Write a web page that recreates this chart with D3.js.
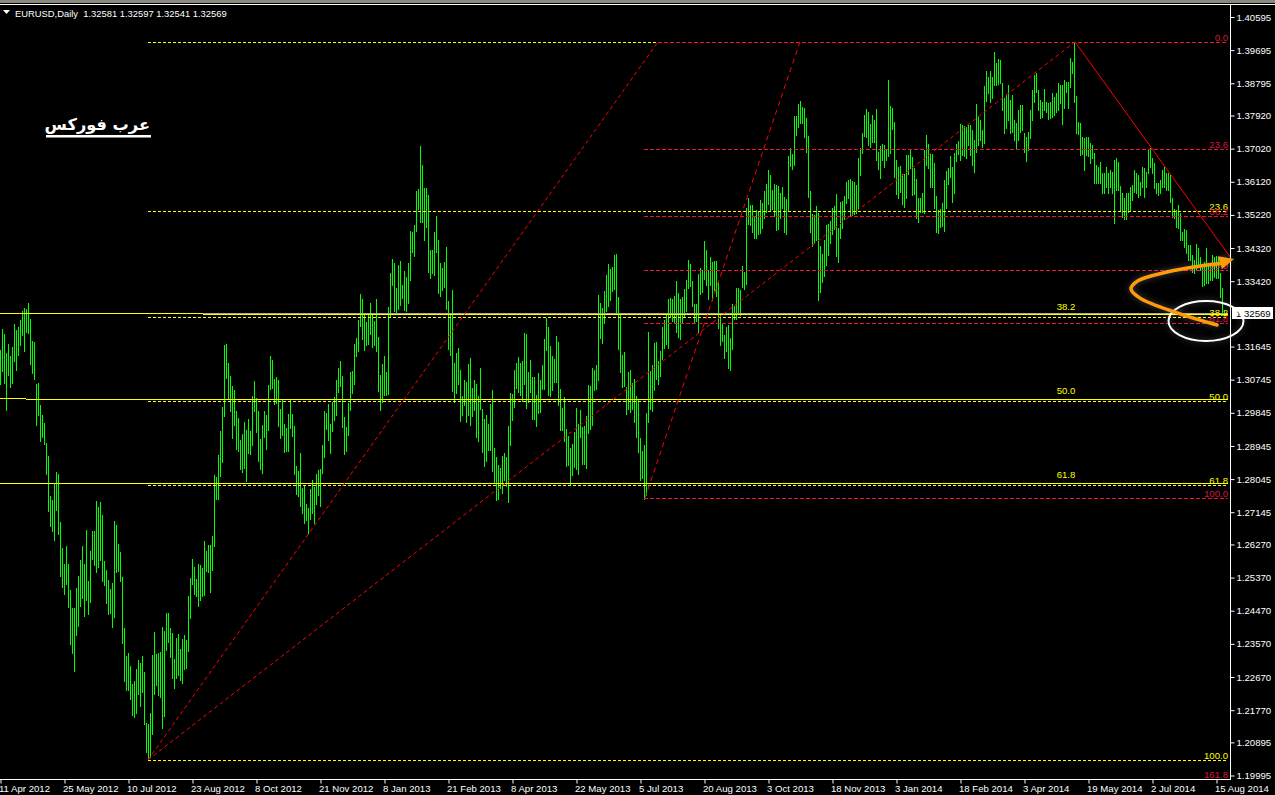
<!DOCTYPE html>
<html><head><meta charset="utf-8">
<script src="https://cdn.jsdelivr.net/npm/d3@7/dist/d3.min.js"></script>
<style>
html,body{margin:0;padding:0;background:#000;overflow:hidden}
svg{display:block}
text{font-family:"Liberation Sans",sans-serif;font-size:9.6px}
</style></head><body><svg id="c" width="1275" height="795"></svg>
<script>
// Values in 1/10000 above 1.0000 (e.g. 3155 = 1.3155)
const highs=[
3155,3212,3199,3147,3171,3139,3163,3226,3209,3218,
3237,3261,3269,3266,3283,3239,3180,3177,3063,3065,
3006,2979,2957,2903,2867,2759,2748,2791,2824,2818,
2688,2617,2574,2623,2574,2503,2454,2454,2509,2541,
2585,2623,2574,2666,2528,2609,2664,2664,2745,2729,
2742,2707,2582,2558,2530,2506,2522,2691,2680,2628,
2606,2539,2400,2324,2332,2297,2248,2256,2289,2313,
2305,2324,2281,2142,2139,2169,2327,2389,2329,2332,
2335,2403,2392,2441,2441,2400,2386,2316,2373,2384,
2343,2370,2381,2367,2487,2536,2587,2566,2533,2574,
2571,2563,2636,2609,2625,2625,2650,2816,2810,2870,
2935,3000,3169,3171,3120,3085,3057,3046,2989,2970,
2911,2927,2960,2938,2968,2935,3030,3071,3025,2989,
2913,2951,2989,2979,3060,3139,3128,3076,3082,3074,
2995,3022,2954,2943,2981,3022,2981,2949,2840,2826,
2875,2780,2788,2737,2726,2778,2802,2783,2818,2829,
2832,2897,2989,2984,3008,2954,3014,3027,3074,3106,
3125,3085,2973,2946,3011,3095,3098,3171,3188,3237,
3307,3294,3253,3231,3253,3283,3253,3234,3294,3190,
3087,3117,3139,3095,3272,3364,3402,3391,3323,3386,
3397,3332,3370,3353,3391,3478,3476,3495,3587,3592,
3709,3658,3595,3595,3576,3427,3427,3476,3519,3454,
3391,3378,3394,3435,3288,3256,3318,3120,3147,3160,
3101,3030,3074,3068,3117,3133,3052,3074,3063,3030,
3106,2995,2968,2979,2954,3008,3046,2889,2864,2843,
2835,2867,2875,2864,2949,3038,3036,3101,3120,3136,
3120,3125,3201,3199,3095,3128,3082,3082,3033,3093,
3074,3114,3185,3242,3218,3166,3139,3131,3193,3177,
3049,2998,3027,2941,2922,2889,2900,2932,2998,2954,
2992,2946,2949,2976,3060,3057,3106,3101,3114,3304,
3283,3269,3315,3359,3389,3375,3380,3413,3416,3299,
3253,3142,3150,3055,3095,3101,3065,3076,3030,3022,
2916,2881,2897,2984,3204,3098,3114,3174,3177,3125,
3152,3218,3237,3253,3294,3296,3294,3302,3343,3310,
3294,3299,3321,3345,3400,3389,3343,3280,3280,3361,
3378,3372,3451,3427,3372,3408,3394,3397,3397,3343,
3250,3226,3196,3218,3223,3188,3280,3275,3323,3323,
3318,3383,3367,3541,3568,3549,3549,3516,3535,3530,
3562,3554,3587,3606,3644,3630,3590,3606,3603,3601,
3582,3598,3571,3565,3682,3704,3687,3791,3791,3823,
3831,3815,3812,3785,3736,3587,3524,3522,3546,3527,
3438,3416,3454,3495,3497,3505,3541,3546,3579,3486,
3557,3560,3573,3611,3617,3620,3614,3611,3603,3677,
3704,3744,3793,3810,3802,3769,3793,3780,3810,3693,
3709,3715,3712,3701,3888,3818,3812,3774,3671,3652,
3655,3633,3633,3685,3685,3698,3679,3649,3620,3568,
3568,3582,3698,3739,3715,3687,3687,3663,3573,3535,
3538,3554,3617,3641,3649,3682,3652,3690,3715,3723,
3769,3766,3763,3761,3766,3766,3753,3725,3823,3791,
3780,3753,3872,3913,3897,3913,3897,3964,3935,3945,
3943,3880,3840,3848,3875,3834,3848,3780,3772,3807,
3820,3820,3744,3734,3747,3807,3861,3902,3907,3861,
3834,3829,3864,3829,3826,3829,3853,3842,3853,3880,
3875,3875,3888,3883,3883,3948,3937,3992,3845,3774,
3772,3734,3731,3734,3734,3717,3712,3690,3658,3652,
3666,3636,3636,3652,3636,3644,3639,3671,3677,3666,
3601,3582,3568,3582,3582,3598,3603,3644,3636,3630,
3611,3652,3649,3639,3698,3704,3677,3663,3609,3609,
3617,3644,3652,3636,3636,3630,3568,3538,3535,3549,
3527,3476,3484,3481,3440,3440,3413,3400,3443,3432,
3408,3381,3394,3432,3391,3391,3413,3408,3410,3408,
3364,3323,3259.7];
const lows=[
3063,3098,3065,2992,3087,3055,3065,3125,3101,3142,
3169,3196,3152,3204,3201,3117,3093,3076,2951,2979,
2908,2919,2900,2818,2718,2677,2664,2639,2720,2655,
2541,2511,2492,2520,2457,2357,2332,2283,2381,2406,
2460,2481,2433,2476,2438,2471,2587,2571,2552,2566,
2585,2528,2517,2468,2438,2441,2403,2430,2552,2555,
2528,2359,2256,2232,2232,2207,2164,2158,2169,2221,
2188,2226,2139,2063,2042,2050,2112,2221,2245,2218,
2213,2128,2161,2340,2362,2321,2264,2237,2264,2272,
2259,2251,2289,2291,2338,2427,2520,2492,2487,2460,
2476,2487,2490,2555,2552,2498,2558,2623,2750,2750,
2813,2851,2976,3079,3025,2989,2916,2951,2886,2881,
2832,2824,2835,2799,2875,2873,2897,2989,2932,2854,
2832,2821,2919,2886,2938,3049,3052,3008,3011,2949,
2916,2924,2878,2881,2881,2943,2922,2818,2764,2759,
2731,2712,2685,2693,2658,2696,2712,2685,2737,2761,
2731,2821,2864,2941,2911,2875,2935,2965,2979,3041,
3057,2946,2873,2881,2924,2992,3038,3063,3139,3152,
3220,3185,3155,3169,3171,3199,3163,3169,3152,3044,
2992,3014,3033,3033,3036,3245,3332,3261,3256,3266,
3277,3296,3264,3261,3283,3345,3421,3410,3478,3538,
3503,3503,3454,3489,3367,3351,3364,3359,3421,3310,
3302,3318,3326,3266,3158,3142,3044,3014,3038,3063,
2962,2979,3006,2960,2979,2951,2976,2992,2919,2908,
2995,2878,2840,2854,2883,2883,2826,2797,2748,2750,
2780,2767,2802,2786,2742,2897,2965,3000,3052,3041,
3033,3017,3063,2998,3014,3041,2968,2968,2949,2984,
2987,3049,3049,3155,3033,3030,3046,3068,3068,3006,
2938,2938,2908,2840,2843,2791,2816,2837,2832,2818,
2919,2846,2846,2835,2930,2941,2951,3046,3049,3074,
3188,3174,3228,3261,3275,3291,3315,3321,3258,3158,
3095,3055,3057,2981,2995,2987,2995,2960,2919,2878,
2802,2807,2750,2761,2960,2995,2989,3046,3076,3063,
3085,3131,3160,3171,3160,3245,3234,3231,3204,3190,
3185,3228,3245,3261,3323,3329,3275,3228,3234,3201,
3307,3313,3348,3332,3294,3332,3291,3318,3302,3215,
3169,3180,3133,3152,3106,3101,3158,3239,3239,3253,
3250,3326,3321,3334,3497,3495,3476,3459,3459,3470,
3473,3486,3514,3530,3552,3535,3538,3519,3481,3484,
3514,3541,3476,3470,3533,3655,3647,3658,3739,3761,
3772,3772,3734,3693,3571,3476,3438,3446,3454,3291,
3313,3340,3356,3386,3413,3446,3470,3484,3410,3394,
3459,3486,3511,3554,3568,3522,3522,3524,3527,3541,
3630,3690,3736,3734,3712,3706,3720,3720,3671,3647,
3622,3671,3652,3671,3682,3690,3755,3625,3579,3568,
3584,3552,3543,3568,3633,3649,3576,3579,3514,3503,
3530,3530,3527,3658,3649,3598,3598,3541,3476,3473,
3489,3492,3478,3541,3606,3625,3557,3582,3668,3687,
3671,3685,3682,3677,3712,3685,3658,3639,3693,3712,
3725,3706,3717,3831,3853,3829,3840,3875,3875,3878,
3880,3807,3744,3758,3780,3744,3747,3725,3701,3725,
3747,3753,3693,3668,3698,3731,3780,3829,3856,3807,
3785,3788,3807,3802,3782,3785,3788,3793,3802,3807,
3826,3769,3812,3856,3812,3869,3907,3829,3744,3742,
3685,3687,3644,3685,3682,3663,3677,3609,3609,3609,
3609,3582,3582,3598,3582,3598,3582,3500,3590,3590,
3535,3516,3511,3511,3530,3535,3562,3584,3582,3571,
3576,3598,3571,3598,3636,3652,3636,3595,3582,3576,
3582,3598,3598,3590,3590,3557,3516,3514,3489,3486,
3454,3454,3435,3419,3400,3400,3367,3364,3372,3386,
3372,3329,3332,3337,3337,3345,3345,3353,3351,3351,
3299,3250,3254.1];
const dateLabels=["11 Apr 2012","25 May 2012","10 Jul 2012","23 Aug 2012","8 Oct 2012","21 Nov 2012","8 Jan 2013","21 Feb 2013","8 Apr 2013","22 May 2013","5 Jul 2013","20 Aug 2013","3 Oct 2013","18 Nov 2013","3 Jan 2014","18 Feb 2014","3 Apr 2014","19 May 2014","2 Jul 2014","15 Aug 2014"];
const priceTicks=[1.40595,1.39695,1.38795,1.37920,1.37020,1.36120,1.35220,1.34320,1.33420,1.31645,1.30745,1.29845,1.28945,1.28045,1.27145,1.26270,1.25370,1.24470,1.23570,1.22670,1.21770,1.20895,1.19995];
const lastPrice=1.32569;
const header="EURUSD,Daily  1.32581 1.32597 1.32541 1.32569";
const brand="عرب فوركس";
// Fibonacci retracements: [label, price]
const yellowLevels=[["0.0",3992],["23.6",3532],["38.2",3246],["50.0",3016],["61.8",2789],["100.0",2042]];
const redLevels=[["0.0",3992],["23.6",3701],["38.2",3519],["50.0",3372],["61.8",3229],["100.0",2753],["161.8",1989]];
// Solid horizontals: [from bar, to bar, price]
const solidLevels=[[0,101.5,3256],[0,13,3025],[13,614,3022],[0,614,2793]];
const doubleLevel=[101.5,614,3256];
// Trend lines: bar index / price pairs
const dottedTrends=[[74,2042,329,3992],[74,2042,537.5,3992]];
const dashedTrend=[322.5,2753,400,3992];
const solidTrend=[537.5,3992,615,3408];
// Orange hand-drawn arrow
const arrowBars=[608.5,588.5,570,565.5,569,583.5,600,610];
const arrowPrices=[3223,3256,3296,3321,3343,3367,3383,3390];
const arrowHeadBars=[617,609,611];
const arrowHeadPrices=[3402,3410,3375];
const circleBar=603, circlePrice=3234;

const W=1275,H=795;
const priceOf=v=>1+v/10000;
const x=d3.scaleLinear().domain([0,1]).range([0,2]);
const y=d3.scaleLinear().domain([1.40595,1.19995]).range([17,775.5]);
const py=v=>Math.round(y(priceOf(v)))+0.5;
const svg=d3.select("#c");
svg.append("rect").attr("width",W).attr("height",H).attr("fill","#000");

// bars
svg.append("g").attr("shape-rendering","crispEdges").selectAll("line").data(highs).join("line")
 .attr("x1",(d,i)=>x(i)+0.5).attr("x2",(d,i)=>x(i)+0.5)
 .attr("y1",d=>Math.round(y(priceOf(d))))
 .attr("y2",(d,i)=>Math.round(y(priceOf(lows[i])))+1)
 .attr("stroke","#00ff00").attr("stroke-width",1);

const RED="#e8143c",YEL="#ffff00";
const right=614;
// yellow fibo
const gy=svg.append("g").attr("shape-rendering","crispEdges");
gy.selectAll("line").data(yellowLevels).join("line")
 .attr("x1",x(74)).attr("x2",(d,i)=>i==0?x(329):x(right))
 .attr("y1",d=>py(d[1])).attr("y2",d=>py(d[1]))
 .attr("stroke",YEL).attr("stroke-dasharray","3,2");
// solid yellow lines
const gs=svg.append("g").attr("shape-rendering","crispEdges");
gs.selectAll("line").data(solidLevels).join("line")
 .attr("x1",d=>x(d[0])).attr("x2",d=>x(d[1]))
 .attr("y1",d=>py(d[2])).attr("y2",d=>py(d[2]))
 .attr("stroke",YEL).attr("stroke-width",1);
// double top line: grey over yellow
gs.append("line").attr("x1",x(doubleLevel[0])).attr("x2",x(doubleLevel[1]))
 .attr("y1",py(doubleLevel[2])).attr("y2",py(doubleLevel[2])).attr("stroke","#a8a890");
gs.append("line").attr("x1",x(doubleLevel[0])).attr("x2",x(doubleLevel[1]))
 .attr("y1",py(doubleLevel[2])+1).attr("y2",py(doubleLevel[2])+1).attr("stroke",YEL).attr("stroke-width",1);
// red fibo
const gr=svg.append("g").attr("shape-rendering","crispEdges");
gr.selectAll("line").data(redLevels).join("line")
 .attr("x1",(d,i)=>i==0?x(329):x(322)).attr("x2",x(right))
 .attr("y1",d=>py(d[1])).attr("y2",d=>py(d[1]))
 .attr("stroke",RED).attr("stroke-dasharray","4,2");
// trend lines
const gt=svg.append("g");
gt.selectAll("line.a").data(dottedTrends).join("line").attr("class","a")
 .attr("x1",d=>x(d[0])).attr("y1",d=>y(priceOf(d[1]))).attr("x2",d=>x(d[2])).attr("y2",d=>y(priceOf(d[3])))
 .attr("stroke","#ff0000").attr("stroke-dasharray","4,3").attr("stroke-width",1);
gt.append("line").attr("x1",x(dashedTrend[0])).attr("y1",y(priceOf(dashedTrend[1]))).attr("x2",x(dashedTrend[2])).attr("y2",y(priceOf(dashedTrend[3])))
 .attr("stroke","#ff0000").attr("stroke-dasharray","5,4").attr("stroke-width",1);
gt.append("line").attr("x1",x(solidTrend[0])).attr("y1",y(priceOf(solidTrend[1]))).attr("x2",x(solidTrend[2])).attr("y2",y(priceOf(solidTrend[3])))
 .attr("stroke","#ff0000").attr("stroke-width",1);

// level labels
const rx=1228;
const lab=(txt,px,base,col,anc)=>svg.append("text").attr("x",px).attr("y",base).attr("fill",col).attr("text-anchor",anc||"end").text(txt);
yellowLevels.forEach(d=>{ if(d[0]=="0.0")return; lab(d[0],rx,py(d[1])-2,YEL); });
redLevels.forEach(d=>lab(d[0],rx,py(d[1])-2,"#dc143c"));
yellowLevels.filter(d=>["38.2","50.0","61.8"].includes(d[0])).forEach(d=>lab(d[0],x(533),py(d[1])-8,YEL,"middle"));

// axes
const gb=svg.append("g").attr("transform","translate(0,779.5)");
gb.call(d3.axisBottom(x).tickValues(d3.range(dateLabels.length).map(i=>i*32)).tickSize(4).tickPadding(2).tickFormat((d,i)=>dateLabels[i]));
gb.select(".domain").attr("stroke","#fff").attr("d","M0,0H1230");
gb.selectAll(".tick line").attr("stroke","#fff").attr("x1",0.5).attr("x2",0.5);
gb.selectAll(".tick text").attr("fill","#fff").attr("text-anchor","start").attr("dx",-1.5).attr("font-family",null).attr("font-size",null);
const gR=svg.append("g").attr("transform","translate(1230.5,0)");
gR.call(d3.axisRight(y).tickValues(priceTicks).tickSize(4).tickPadding(2).tickFormat(d3.format(".5f")));
gR.select(".domain").attr("stroke","#fff").attr("d","M0,5V780");
gR.selectAll(".tick line").attr("stroke","#fff");
gR.selectAll(".tick text").attr("fill","#fff").attr("font-family",null).attr("font-size",null);

// last price tag
const ly=y(lastPrice);
svg.append("rect").attr("x",1232).attr("y",Math.round(ly)-6).attr("width",41).attr("height",12).attr("fill","#fff");
svg.append("text").attr("x",1236).attr("y",Math.round(ly)+4).attr("fill","#000").text(d3.format(".5f")(lastPrice));

// header
svg.append("rect").attr("x",0).attr("y",0).attr("width",W).attr("height",3).attr("fill","#8a8a80");
svg.append("line").attr("x1",0).attr("x2",W).attr("y1",4.5).attr("y2",4.5).attr("stroke","#fff");
svg.append("path").attr("d",d3.line()([[3,10],[10,10],[6.5,14]])+"Z").attr("fill","#fff");
svg.append("text").attr("x",15).attr("y",17).attr("fill","#fff").style("white-space","pre").style("font-size","9.4px").text(header);

// brand
svg.append("text").attr("x",150).attr("y",130).attr("fill","#fff").attr("text-anchor","end")
 .style("font-family","'DejaVu Sans'").style("font-weight","bold").style("font-size","16.2px").text(brand);
svg.append("rect").attr("x",46).attr("y",135).attr("width",105).attr("height",2.5).attr("fill","#fff");

// annotations
const glow="drop-shadow(0 0 3px rgba(255,255,255,0.3))";
svg.append("ellipse").attr("cx",x(circleBar)).attr("cy",y(priceOf(circlePrice))).attr("rx",37.5).attr("ry",20)
 .attr("fill","none").attr("stroke","#fff").attr("stroke-width",2).style("filter",glow);
const ln=d3.line().x(d=>x(d[0])).y(d=>y(priceOf(d[1]))).curve(d3.curveCatmullRom);
const ga=svg.append("g").style("filter",glow);
ga.append("path").attr("d",ln(arrowBars.map((b,i)=>[b,arrowPrices[i]]))).attr("fill","none").attr("stroke","#ff9a0a").attr("stroke-width",3.5).attr("stroke-linecap","round");
ga.append("path").attr("d",d3.line().x(d=>x(d[0])).y(d=>y(priceOf(d[1])))(arrowHeadBars.map((b,i)=>[b,arrowHeadPrices[i]]))+"Z").attr("fill","#ff9a0a");
</script></body></html>
